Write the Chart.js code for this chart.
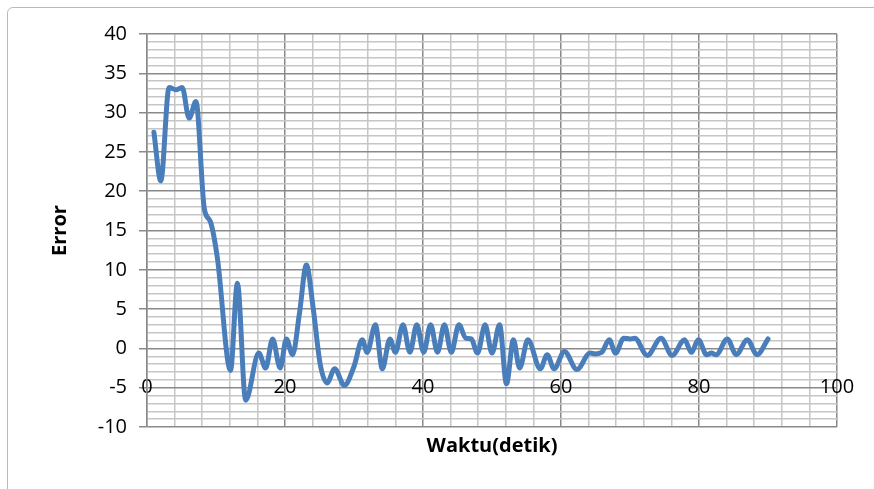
<!DOCTYPE html>
<html>
<head>
<meta charset="utf-8">
<script src="https://cdn.jsdelivr.net/npm/chart.js@4.4.1/dist/chart.umd.min.js"></script>
<style>
  html, body { margin: 0; padding: 0; background: #ffffff; }
  #wrap { position: relative; width: 874px; height: 489px; overflow: hidden; }
  #frame {
    position: absolute; left: 7px; top: 7px; width: 872px; height: 500px;
    border: 1.5px solid #b9b9b9; border-radius: 6px; box-sizing: border-box;
    pointer-events: none;
  }
  canvas { position: absolute; left: 0; top: 0; }
</style>
</head>
<body>
<div id="wrap">
  <canvas id="chart" width="874" height="489"></canvas>
  <div id="frame"></div>
</div>
<script>
// Error response over time (seconds)
const times = [
  1.0, 2.0, 3.2, 4.2, 5.1, 6.1, 7.1, 8.3, 9.2, 10.2,
  12.1, 13.1, 14.3, 16.2, 17.2, 18.2, 19.3, 20.2, 21.1, 22.1,
  23.1, 24.1, 25.1, 26.1, 27.2, 28.6, 30.0, 31.2, 31.9, 33.1,
  34.1, 35.2, 36.0, 37.1, 38.1, 39.1, 40.1, 41.1, 42.1, 43.1,
  44.1, 45.2, 46.2, 47.0, 47.9, 49.0, 50.0, 51.1, 52.1, 53.1,
  54.0, 55.2, 57.0, 58.0, 59.0, 60.5, 62.3, 64.2, 65.0, 65.9,
  67.0, 67.9, 69.1, 70.0, 70.7, 72.5, 74.5, 76.1, 77.9, 78.9,
  79.9, 81.1, 81.8, 82.5, 84.1, 85.4, 87.0, 88.4, 90.0
];
const errors = [
  27.5, 21.3, 33.2, 32.9, 33.2, 29.3, 31.4, 17.8, 16.1, 11.5,
  -2.8, 8.3, -6.6, -0.6, -2.5, 1.2, -2.5, 1.2, -0.8, 4.5,
  10.6, 5.0, -2.0, -4.4, -2.6, -4.7, -2.3, 1.1, -0.5, 3.0,
  -2.6, 1.2, -0.5, 3.0, -0.5, 3.0, -0.5, 3.0, -0.5, 3.0,
  -0.5, 3.0, 1.3, 1.2, -0.6, 3.0, -0.6, 3.0, -4.5, 1.1,
  -2.5, 1.1, -2.6, -0.8, -2.6, -0.4, -2.7, -0.6, -0.7, -0.5,
  1.1, -0.6, 1.3, 1.2, 1.3, -0.9, 1.3, -0.9, 1.1, -0.5,
  1.1, -0.8, -0.6, -0.8, 1.2, -0.8, 1.1, -0.8, 1.2
];

// Axis ranges and labelled tick steps
const xRange = [0, 100];
const yRange = [-10, 40];
const xLabelStep = 20;
const yLabelStep = 5;
const xTitle = 'Waktu(detik)';
const yTitle = 'Error';

const points = times.map((t, i) => ({ x: t, y: errors[i] }));

const majorGrid = '#8a8a8a';
const minorGrid = '#c6c6c6';
const labelFont = { family: "'Open Sans', 'Liberation Sans', sans-serif", size: 20 };
const titleFont = { family: "'Open Sans', 'Liberation Sans', sans-serif", size: 20, weight: 'bold' };

new Chart(document.getElementById('chart'), {
  type: 'line',
  data: {
    datasets: [{
      data: points,
      borderColor: '#4a7ebb',
      borderWidth: 5,
      pointRadius: 0,
      fill: false,
      cubicInterpolationMode: 'monotone',
      borderCapStyle: 'round',
      borderJoinStyle: 'round'
    }]
  },
  options: {
    responsive: false,
    devicePixelRatio: 1,
    animation: false,
    layout: { padding: { left: 40, right: 37, top: 34, bottom: 0 } },
    plugins: {
      legend: { display: false },
      tooltip: { enabled: false },
      title: {
        display: true,
        text: xTitle,
        position: 'bottom',
        fullSize: false,
        color: '#000000',
        font: titleFont,
        padding: { top: 7, bottom: 31 }
      }
    },
    scales: {
      x: {
        type: 'linear',
        position: { y: -5 },
        min: xRange[0],
        max: xRange[1],
        ticks: {
          stepSize: 4,
          autoSkip: false,
          maxRotation: 0,
          color: '#000000',
          font: labelFont,
          padding: -12,
          callback: v => (v % xLabelStep === 0 ? v : '')
        },
        grid: {
          drawTicks: false,
          lineWidth: 1.5,
          color: ctx => (ctx.tick && ctx.tick.value % xLabelStep === 0 ? majorGrid : minorGrid)
        },
        border: { display: false }
      },
      y: {
        type: 'linear',
        min: yRange[0],
        max: yRange[1],
        afterFit: scale => { scale.width = 107; },
        title: {
          display: true,
          text: yTitle,
          color: '#000000',
          font: titleFont,
          padding: { top: 8, bottom: 0 }
        },
        ticks: {
          stepSize: 1,
          autoSkip: false,
          color: '#000000',
          font: labelFont,
          padding: 12,
          callback: v => (v % yLabelStep === 0 ? v : '')
        },
        grid: {
          tickLength: 8,
          lineWidth: 1.5,
          color: ctx => (ctx.tick && ctx.tick.value % yLabelStep === 0 ? majorGrid : minorGrid),
          tickColor: ctx => (ctx.tick && ctx.tick.value % yLabelStep === 0 ? majorGrid : 'rgba(0,0,0,0)')
        },
        border: { display: true, color: majorGrid, width: 1.5 }
      }
    }
  }
});
</script>
</body>
</html>
